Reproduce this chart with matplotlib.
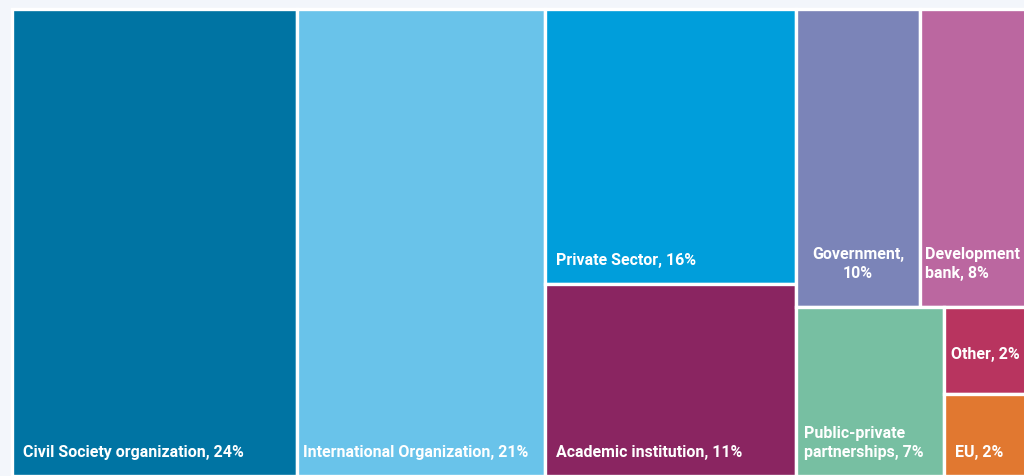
import matplotlib.pyplot as plt
from matplotlib.patches import Rectangle

# Treemap of organisation types (labels show share in %)
categories = ['Civil Society organization', 'International Organization', 'Private Sector',
              'Academic institution', 'Government', 'Development\nbank',
              'Public-private\npartnerships', 'Other', 'EU']
shares = [24, 21, 16, 11, 10, 8, 7, 2, 2]
# relative box sizes as drawn in the picture
sizes = [133, 116, 69, 48, 37, 34.5, 25, 8, 7.6]
colors = ['#0074a3', '#69c3ea', '#009edb', '#8a2561', '#7b84b8',
          '#bb67a0', '#77bfa2', '#b8345f', '#e17830']

# nesting of the slices: columns -> rows -> columns -> rows
layout = [0, 1, [2, 3], [[4, 5], [6, [7, 8]]]]


def total(node):
    if isinstance(node, int):
        return sizes[node]
    return sum(total(n) for n in node)


def place(node, x, y, w, h, horizontal, out):
    if isinstance(node, int):
        out[node] = (x, y, w, h)
        return
    t = total(node)
    for child in node:
        f = total(child) / t
        if horizontal:
            place(child, x, y, w * f, h, False, out)
            x += w * f
        else:
            place(child, x, y, w, h * f, True, out)
            y += h * f


W, H = 1024, 476
fig = plt.figure(figsize=(W / 100, H / 100), dpi=100)
fig.patch.set_facecolor('#f3f6fb')
ax = fig.add_axes([0, 0, 1, 1])
ax.set_xlim(0, W)
ax.set_ylim(H, 0)
ax.axis('off')

cells = {}
place(layout, 12, 9, 1024, 467, True, cells)

pad = {1: 6, 5: 5, 6: 8}
for i, (x, y, w, h) in cells.items():
    ax.add_patch(Rectangle((x, y), w, h, facecolor=colors[i], edgecolor='white', linewidth=2.4))
    label = f'{categories[i]}, {shares[i]}%'
    kw = dict(color='white', fontsize=11.5, fontweight='bold', family='Roboto', linespacing=1.3)
    if i == 4:
        label = f'{categories[i]},\n{shares[i]}%'
        ax.text(x + w / 2, y + h - 26, label, ha='center', va='bottom', multialignment='center', **kw)
    elif i == 5:
        ax.text(x + pad[i], y + h - 26, label, ha='left', va='bottom', **kw)
    elif i == 7:
        ax.text(x + 7, y + h / 2 + 4, label, ha='left', va='center', **kw)
    else:
        ax.text(x + pad.get(i, 11), y + h - 16, label, ha='left', va='bottom', **kw)

fig.savefig('out.png', dpi=100, facecolor=fig.get_facecolor())
